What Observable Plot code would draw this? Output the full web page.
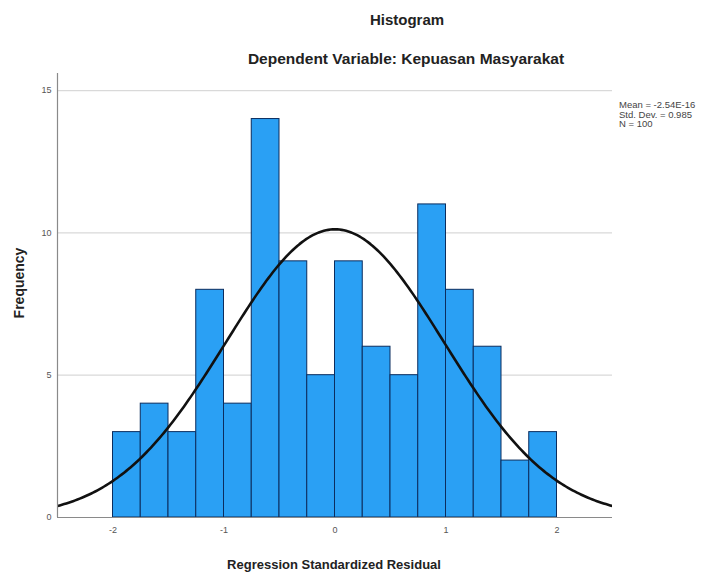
<!DOCTYPE html>
<html>
<head>
<meta charset="utf-8">
<script src="https://cdn.jsdelivr.net/npm/d3@7"></script>
<script src="https://cdn.jsdelivr.net/npm/@observablehq/plot@0.6"></script>
<style>
  html, body { margin: 0; padding: 0; background: #fff; overflow: hidden; }
  #wrap { position: relative; width: 701px; height: 575px; overflow: hidden; font-family: "Liberation Sans", Arial, sans-serif; }
  .t { position: absolute; white-space: nowrap; color: #222; }
</style>
</head>
<body>
<div id="wrap">
  <div class="t" id="title" style="left:0;width:814px;text-align:center;top:11px;font-size:15px;font-weight:bold;">Histogram</div>
  <div class="t" id="subtitle" style="left:0;width:812px;text-align:center;top:50px;font-size:15.5px;font-weight:bold;">Dependent Variable: Kepuasan Masyarakat</div>
  <div class="t" id="ylab" style="left:19px;top:283px;font-size:14px;font-weight:bold;transform:translate(-50%,-50%) rotate(-90deg);">Frequency</div>
  <div class="t" id="xlab" style="left:0;width:668px;text-align:center;top:557px;font-size:13px;font-weight:bold;">Regression Standardized Residual</div>
  <div class="t" id="legend" style="left:619px;top:100px;font-size:9.5px;line-height:9.6px;color:#444;"></div>
</div>
<script>
// Histogram bins (edges) and frequencies
const binStarts = [-2, -1.75, -1.5, -1.25, -1, -0.75, -0.5, -0.25, 0, 0.25, 0.5, 0.75, 1, 1.25, 1.5, 1.75];
const binEnds   = [-1.75, -1.5, -1.25, -1, -0.75, -0.5, -0.25, 0, 0.25, 0.5, 0.75, 1, 1.25, 1.5, 1.75, 2];
const counts    = [3, 4, 3, 8, 4, 14, 9, 5, 9, 6, 5, 11, 8, 6, 2, 3];
const xTicks = [-2, -1, 0, 1, 2];
const yTicks = [0, 5, 10, 15];
const gridY = [5, 10, 15];
const legendLines = ["Mean = -2.54E-16", "Std. Dev. = 0.985", "N = 100"];
const meanVal = -2.54e-16, sdVal = 0.985, nVal = 100, binWidth = 0.25;

const bars = binStarts.map((s, i) => ({x1: s, x2: binEnds[i], count: counts[i]}));

// Normal curve as drawn from the stated mean / sd / N
const curve = d3.range(-2.5, 2.5001, 0.02).map(x => ({
  x,
  y: nVal * binWidth / (sdVal * Math.sqrt(2 * Math.PI)) * Math.exp(-0.5 * ((x - meanVal) / sdVal) ** 2)
}));

const chart = Plot.plot({
  width: 701,
  height: 575,
  marginTop: 73,
  marginLeft: 57,
  marginRight: 89,
  marginBottom: 58,
  style: {fontFamily: "Liberation Sans, Arial, sans-serif", background: "transparent"},
  x: {domain: [-2.5, 2.5]},
  y: {domain: [0, 15.6]},
  marks: [
    Plot.ruleY(gridY, {stroke: "#d9d9d9", strokeWidth: 1.2}),
    Plot.rectY(bars, {x1: "x1", x2: "x2", y: "count", fill: "#2aa0f4", stroke: "#0b2d5e", strokeWidth: 1}),
    Plot.line(curve, {x: "x", y: "y", stroke: "#111", strokeWidth: 2.6, clip: true}),
    Plot.ruleY([0], {stroke: "#8a8a8a", strokeWidth: 1.2}),
    Plot.ruleX([-2.5], {stroke: "#8a8a8a", strokeWidth: 1.2, y1: 0, y2: 15.6}),
    Plot.axisX({ticks: xTicks, tickFormat: d => String(d), tickSize: 0, tickPadding: 9, fontSize: 9, color: "#555", label: null}),
    Plot.axisY({ticks: yTicks, tickFormat: d => String(d), tickSize: 0, tickPadding: 6, fontSize: 9, color: "#555", label: null})
  ]
});
chart.style.position = "absolute";
chart.style.left = "0px";
chart.style.top = "0px";
document.getElementById("wrap").prepend(chart);
document.getElementById("legend").innerHTML = legendLines.join("<br>");
</script>
</body>
</html>
